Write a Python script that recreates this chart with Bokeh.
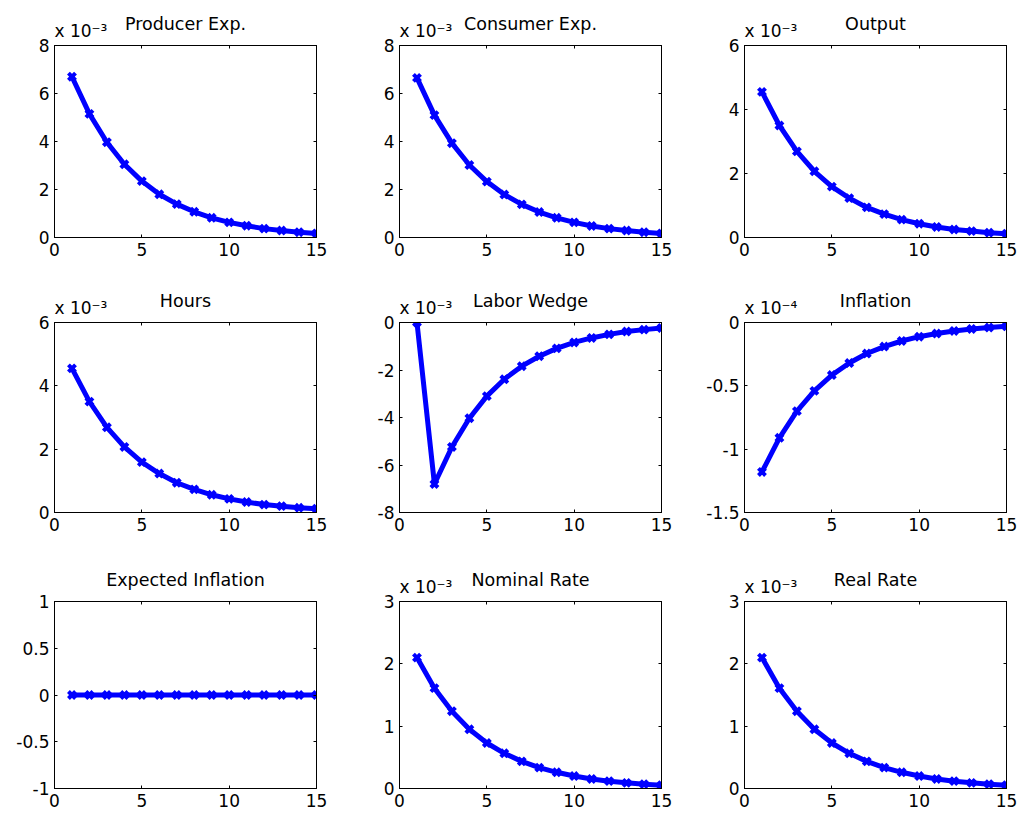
from bokeh.plotting import figure
from bokeh.layouts import column, row
from bokeh.models import (Range1d, FixedTicker, LinearAxis, Title, CustomJSTickFormatter)
from bokeh.embed import file_html
from bokeh.resources import INLINE

periods = list(range(1, 16))

titles = ["Producer Exp.", "Consumer Exp.", "Output",
          "Hours", "Labor Wedge", "Inflation",
          "Expected Inflation", "Nominal Rate", "Real Rate"]

scale_labels = ["x 10\u207b\u00b3", "x 10\u207b\u00b3", "x 10\u207b\u00b3",
                "x 10\u207b\u00b3", "x 10\u207b\u00b3", "x 10\u207b\u2074",
                None, "x 10\u207b\u00b3", "x 10\u207b\u00b3"]

producer_exp = [6.70, 5.15, 3.97, 3.05, 2.35, 1.80, 1.39, 1.07, 0.82, 0.63, 0.49, 0.37, 0.29, 0.22, 0.17]
consumer_exp = [6.65, 5.10, 3.93, 3.02, 2.33, 1.79, 1.38, 1.06, 0.82, 0.63, 0.48, 0.37, 0.29, 0.22, 0.17]
output = [4.55, 3.50, 2.69, 2.07, 1.59, 1.23, 0.94, 0.73, 0.56, 0.43, 0.33, 0.25, 0.20, 0.15, 0.12]
hours = [4.55, 3.50, 2.69, 2.07, 1.59, 1.23, 0.94, 0.73, 0.56, 0.43, 0.33, 0.25, 0.20, 0.15, 0.12]
labor_wedge = [0.0, -6.80, -5.24, -4.03, -3.10, -2.39, -1.84, -1.42, -1.09, -0.84, -0.65, -0.50, -0.38, -0.30, -0.23]
inflation = [-1.18, -0.91, -0.70, -0.54, -0.415, -0.32, -0.245, -0.19, -0.146, -0.112, -0.087, -0.067, -0.051, -0.040, -0.030]
expected_inflation = [0.0] * 15
nominal_rate = [2.10, 1.61, 1.24, 0.95, 0.73, 0.565, 0.435, 0.335, 0.26, 0.20, 0.153, 0.118, 0.091, 0.070, 0.054]
real_rate = [2.10, 1.61, 1.24, 0.95, 0.73, 0.565, 0.435, 0.335, 0.26, 0.20, 0.153, 0.118, 0.091, 0.070, 0.054]

series = [producer_exp, consumer_exp, output, hours, labor_wedge, inflation,
          expected_inflation, nominal_rate, real_rate]

y_ranges = [(0, 8), (0, 8), (0, 6), (0, 6), (-8, 0), (-1.5, 0), (-1, 1), (0, 3), (0, 3)]
y_ticks = [[0, 2, 4, 6, 8], [0, 2, 4, 6, 8], [0, 2, 4, 6], [0, 2, 4, 6],
           [-8, -6, -4, -2, 0], [-1.5, -1, -0.5, 0], [-1, -0.5, 0, 0.5, 1],
           [0, 1, 2, 3], [0, 1, 2, 3]]
x_ticks = [0, 5, 10, 15]

FONT = "DejaVu Sans"
FSIZE = "17px"
TSIZE = "17.5px"
BLUE = "#0000ff"

fmt_code = "return String(tick);"

# page has no margin: figures start at x=0, y=0
col_widths = [345, 345, 328]
row_heights = [278, 278, 262]
frame_w = 262
frame_h = [192, 190, 189]
border_left = 54
border_top = [45, 44, 43]


def make(i):
    r, c = divmod(i, 3)
    w = col_widths[c]
    h = row_heights[r]
    bl = border_left
    br = w - bl - frame_w
    bt = border_top[r]
    bb = h - bt - frame_h[r]
    y0, y1 = y_ranges[i]
    p = figure(width=w, height=h, output_backend="svg", toolbar_location=None,
               x_range=Range1d(0, 15), y_range=Range1d(y0, y1),
               min_border_left=bl, min_border_right=br,
               min_border_top=bt, min_border_bottom=bb,
               x_axis_location=None, y_axis_location=None,
               title_location=None)
    p.grid.visible = False
    p.outline_line_color = "black"
    p.outline_line_width = 1
    p.background_fill_color = "white"
    p.border_fill_color = "white"

    for loc, is_x in (("below", True), ("above", True), ("left", False), ("right", False)):
        ax = LinearAxis(ticker=FixedTicker(ticks=x_ticks if is_x else y_ticks[i]))
        ax.formatter = CustomJSTickFormatter(code=fmt_code)
        ax.major_tick_in = 3
        ax.major_tick_out = 0
        ax.minor_tick_line_color = None
        ax.axis_line_color = "black"
        ax.major_tick_line_color = "black"
        ax.major_label_text_font = FONT
        ax.major_label_text_font_size = FSIZE
        ax.major_label_text_color = "black"
        if loc in ("above", "right"):
            ax.major_label_text_font_size = "1px"
            ax.major_label_text_color = None
            ax.major_label_standoff = 0
        else:
            ax.major_label_standoff = 5
        p.add_layout(ax, loc)

    p.line(periods, series[i], line_color=BLUE, line_width=5)
    p.scatter(periods, series[i], marker="x", size=10, line_color=BLUE, line_width=4)

    if scale_labels[i]:
        p.add_layout(Title(text=scale_labels[i], align="left", offset=0, standoff=9,
                           text_font=FONT, text_font_size=FSIZE,
                           text_font_style="normal", text_color="black"), "above")
        p.add_layout(Title(text=titles[i], align="center", standoff=-39,
                           text_font=FONT, text_font_size=TSIZE,
                           text_font_style="normal", text_color="black"), "above")
    else:
        p.add_layout(Title(text=titles[i], align="center", standoff=23,
                           text_font=FONT, text_font_size=TSIZE,
                           text_font_style="normal", text_color="black"), "above")
    return p


figs = [make(i) for i in range(9)]
layout = column(row(figs[0:3]), row(figs[3:6]), row(figs[6:9]))

open("out.html", "w").write(file_html(layout, INLINE))
